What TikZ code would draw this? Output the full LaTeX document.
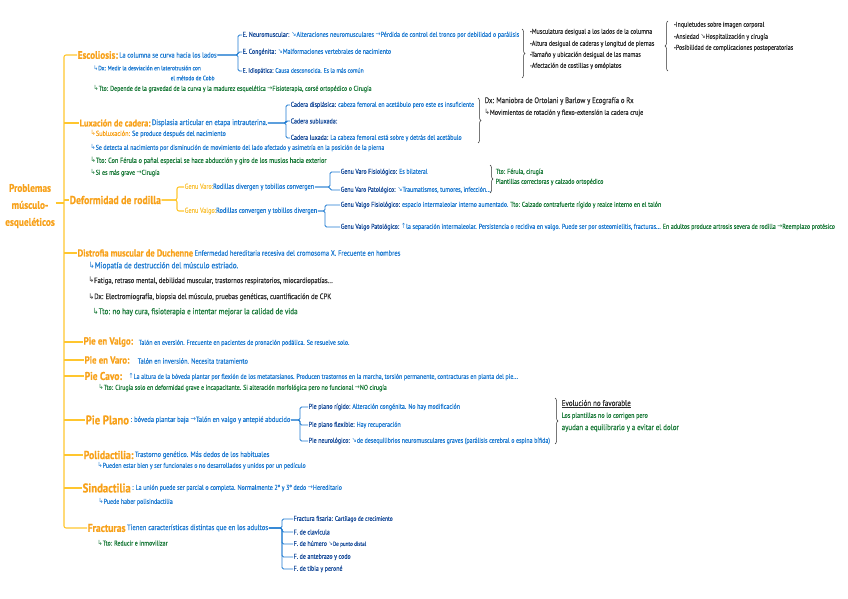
\documentclass[tikz,border=0pt]{standalone}
\usepackage{fontspec}
\setmainfont{PT Sans}[FakeStretch=0.85, FakeBold=0.5]
\newfontfamily\sym{DejaVu Sans}[FakeStretch=0.85]
\usetikzlibrary{decorations.pathreplacing}

\definecolor{orangeC}{HTML}{F7A11A}
\definecolor{varoC}{HTML}{F9C23C}
\definecolor{trunkC}{HTML}{FFC62E}
\definecolor{blueC}{HTML}{1F7BD1}
\definecolor{dblueC}{HTML}{1B4E9B}
\definecolor{greenC}{HTML}{1B7A3A}
\definecolor{grayC}{HTML}{2E2E2E}

\newcommand\fs[1]{\fontsize{#1}{#1}\selectfont}
\newcommand\hk{{\sym ↳}}
\newcommand\arr{{\sym →}}
\newcommand\darr{{\sym ↘}}
\newcommand\uarr{{\sym ↑}}

\begin{document}
\begin{tikzpicture}[x=1pt, y=-1pt,
  cat/.style={anchor=west, inner sep=0.5pt, text=orangeC, font=\bfseries\fs{#1}},
  cat/.default=11,
  txt/.style={anchor=west, inner sep=0.5pt, font=\fs{#1}},
  txt/.default=7,
  bl/.style={txt=#1, text=blueC}, bl/.default=7,
  db/.style={txt=#1, text=dblueC}, db/.default=7,
  gr/.style={txt=#1, text=greenC}, gr/.default=7,
  gy/.style={txt=#1, text=grayC}, gy/.default=7,
  trunk/.style={draw=trunkC, line width=1.1pt, rounded corners=2pt},
  twig/.style={draw=blueC, line width=0.8pt, rounded corners=1.5pt},
  brc/.style={draw=grayC, line width=0.5pt, decorate, decoration={brace, amplitude=3pt}}]
  \useasboundingbox (0,0) rectangle (848,599);
  \coordinate (tx) at (64,0);

  % Root
  \node[text=orangeC, font=\bfseries\fontsize{11}{17}\selectfont, align=center, inner sep=0.5pt] (root) at (30,206)
    {Problemas\\músculo-\\esqueléticos};

  % Escoliosis
  \node[cat=10.8] (esc) at (77,55) {Escoliosis:};
  \node[bl=7.5] (escd) at (esc.east) {La columna se curva hacia los lados};
  \node[bl=6.4] (escdx) at (93,68) {\hk Dx: Medir la desviación en laterotrusión con};
  \node[bl=6.4] (escdx2) at (170,78) {el método de Cobb};
  \node[gr] (esctto) at (93,89) {\hk Tto: Depende de la gravedad de la curva y la madurez esquelética \arr Fisioterapia, corsé ortopédico o Cirugía};
  \node[bl=7.1] (eneu) at (242,35) {\textcolor{dblueC}{E. Neuromuscular:} \darr Alteraciones neuromusculares \arr Pérdida de control del tronco por debilidad o parálisis};
  \node[bl] (econ) at (242,52) {\textcolor{dblueC}{E. Congénita:} \darr Malformaciones vertebrales de nacimiento};
  \node[bl=6.6] (eidi) at (242,71) {\textcolor{dblueC}{E. Idiopática:} Causa desconocida. Es la más común};
  \foreach \n in {eneu,econ,eidi}
    \draw[twig] (escd.east) -| ([xshift=-4]\n.west) -- (\n.west);
  \draw[brc] (522,29) -- (522,78);
  \node[gy] (sym1) at (529,32) {-Musculatura desigual a los lados de la columna};
  \node[gy] (sym2) at (529,44) {-Altura desigual de caderas y longitud de piernas};
  \node[gy] (sym3) at (529,55) {-Tamaño y ubicación desigual de las mamas};
  \node[gy] (sym4) at (529,66) {-Afectación de costillas y omóplatos};
  \draw[brc] (668,71) -- (668,21);
  \node[gy] (psy1) at (673,25) {-Inquietudes sobre imagen corporal};
  \node[gy] (psy2) at (673,37) {-Ansiedad \darr Hospitalización y cirugía};
  \node[gy] (psy3) at (673,48) {-Posibilidad de complicaciones postoperatorias};

  % Luxacion de cadera
  \node[cat=9.8] (lux) at (79,123) {Luxación de cadera:};
  \node[bl=7.9] (luxd) at (lux.east) {Displasia articular en etapa intrauterina.};
  \node[txt=7.3, text=orangeC] (luxsub) at (90,134) {\hk Subluxación: \textcolor{blueC}{Se produce después del nacimiento}};
  \node[bl] (luxdet) at (90,148) {\hk Se detecta al nacimiento por disminución de movimiento del lado afectado y asimetría en la posición de la pierna};
  \node[gr=7.4] (luxtto) at (90,161) {\hk Tto: Con Férula o pañal especial se hace abducción y giro de los muslos hacia exterior};
  \node[gr] (luxcir) at (90,173) {\hk Si es más grave \arr Cirugía};
  \node[bl] (cdis) at (290,105) {\textcolor{dblueC}{Cadera displásica:} cabeza femoral en acetábulo pero este es insuficiente};
  \node[bl] (csub) at (290,121) {\textcolor{dblueC}{Cadera subluxada:}};
  \node[bl] (clux) at (290,138) {\textcolor{dblueC}{Cadera luxada:} La cabeza femoral está sobre y detrás del acetábulo};
  \foreach \n in {cdis,csub,clux}
    \draw[twig] (luxd.east) -| ([xshift=-4]\n.west) -- (\n.west);
  \draw[brc] (478,98) -- (478,143);
  \node[gy=8] (luxdx) at (484,101) {Dx: Maniobra de Ortolani y Barlow y Ecografía o Rx};
  \node[gy=7.3] (luxmov) at (484,113) {\hk Movimientos de rotación y flexo-extensión la cadera cruje};

  % Deformidad de rodilla
  \node[cat=11.5] (def) at (69,200) {Deformidad de rodilla};
  \node[txt=7.3, text=varoC] (varo) at (184,187) {Genu Varo:\textcolor{blueC}{Rodillas divergen y tobillos convergen}};
  \node[txt=7.3, text=varoC] (valgo) at (184,211) {Genu Valgo:\textcolor{blueC}{Rodillas convergen y tobillos divergen}};
  \foreach \n in {varo,valgo}
    \draw[trunk] (def.east) -| ([xshift=-7]\n.west) -- (\n.west);
  \node[bl] (vfis) at (340,172) {\textcolor{dblueC}{Genu Varo Fisiológico:} Es bilateral};
  \node[bl=6.9] (vpat) at (340,190) {\textcolor{dblueC}{Genu Varo Patológico:} \darr Traumatismos, tumores, infección...};
  \foreach \n in {vfis,vpat}
    \draw[twig] (varo.east) -| ([xshift=-10]\n.west) -- (\n.west);
  \draw[brc] (490,165) -- (490,193);
  \node[gr] (vtto) at (495,172) {Tto: Férula, cirugía};
  \node[gr] (vpla) at (495,182) {Plantillas correctoras y calzado ortopédico};
  \node[bl] (lfis) at (340,205) {\textcolor{dblueC}{Genu Valgo Fisiológico:} espacio intermaleolar interno aumentado. \textcolor{greenC}{Tto: Calzado contrafuerte rígido y realce interno en el talón}};
  \node[bl] (lpat) at (340,227) {\textcolor{dblueC}{Genu Valgo Patológico:} \uarr la separación intermaleolar. Persistencia o recidiva en valgo. Puede ser por osteomielitis, fracturas... \textcolor{greenC}{En adultos produce artrosis severa de rodilla \arr Reemplazo protésico}};
  \foreach \n in {lfis,lpat}
    \draw[twig] (valgo.east) -| ([xshift=-15]\n.west) -- (\n.west);

  % Distrofia muscular de Duchenne
  \node[cat=10] (dmd) at (77,253) {Distrofia muscular de Duchenne};
  \node[bl=7.7] (dmdd) at (dmd.east) {Enfermedad hereditaria recesiva del cromosoma X. Frecuente en hombres};
  \node[bl=8.6] (dmd1) at (88,266) {\hk Miopatía de destrucción del músculo estriado.};
  \node[gy=7.7] (dmd2) at (88,281) {\hk Fatiga, retraso mental, debilidad muscular, trastornos respiratorios, miocardiopatías...};
  \node[gy=7.8] (dmd3) at (88,297) {\hk Dx: Electromiografía, biopsia del músculo, pruebas genéticas, cuantificación de CPK};
  \node[gr=8.4] (dmd4) at (92,312) {\hk Tto: no hay cura, fisioterapia e intentar mejorar la calidad de vida};

  % Pies
  \node[cat=10.4] (pva) at (83,342) {Pie en Valgo:};
  \node[bl] (pvad) at (138,343) {Talón en eversión. Frecuente en pacientes de pronación podálica. Se resuelve solo.};
  \node[cat=10.3] (pvr) at (84,360) {Pie en Varo:};
  \node[bl=7.5] (pvrd) at (137,361) {Talón en inversión. Necesita tratamiento};
  \node[cat=11.2] (pca) at (84,376) {Pie Cavo:};
  \node[bl] (pcad) at (128,377) {\uarr La altura de la bóveda plantar por flexión de los metatarsianos. Producen trastornos en la marcha, torsión permanente, contracturas en planta del pie...};
  \node[gr] (pcat) at (98,388) {\hk Tto: Cirugía solo en deformidad grave e incapacitante. Si alteración morfológica pero no funcional \arr NO cirugía};

  % Pie plano
  \node[cat=12.6] (ppl) at (85,420) {Pie Plano};
  \node[bl=7.6] (ppld) at (ppl.east) {: bóveda plantar baja \arr Talón en valgo y antepié abducido};
  \node[bl] (prig) at (308,407) {\textcolor{dblueC}{Pie plano rígido:} Alteración congénita. No hay modificación};
  \node[bl] (pflex) at (308,425) {\textcolor{dblueC}{Pie plano flexible:} Hay recuperación};
  \node[bl] (pneu) at (308,441) {\textcolor{dblueC}{Pie neurológico:} \darr de desequilibrios neuromusculares graves (parálisis cerebral o espina bífida)};
  \foreach \n in {prig,pflex,pneu}
    \draw[twig] (ppld.east) -| ([xshift=-8]\n.west) -- (\n.west);
  \draw[brc] (555,398) -- (555,444);
  \node[gy=8.3] (pevo) at (561,404) {\underline{Evolución no favorable}};
  \node[gr=7.2] (ppla1) at (561,416) {Los plantillas no lo corrigen pero};
  \node[gr=8.2] (ppla2) at (561,428) {ayudan a equilibrarlo y a evitar el dolor};

  % Polidactilia y sindactilia
  \node[cat=11.6] (pol) at (83,455) {Polidactilia:};
  \node[bl=7.7] (pold) at (pol.east) {Trastorno genético. Más dedos de los habituales};
  \node[bl] (pol1) at (97,466) {\hk Pueden estar bien y ser funcionales o no desarrollados y unidos por un pedículo};
  \node[cat=12.6] (sin) at (82,488) {Sindactilia};
  \node[bl=7.1] (sind) at (sin.east) {: La unión puede ser parcial o completa. Normalmente 2º y 3º dedo \arr Hereditario};
  \node[bl] (sin1) at (98,502) {\hk Puede haber polisindactilia};

  % Fracturas
  \node[cat=11.3] (fra) at (87,528) {Fracturas};
  \node[bl=7.8] (frad) at (fra.east) {Tienen características distintas que en los adultos};
  \node[gr] (fratto) at (97,543) {\hk Tto: Reducir e inmovilizar};
  \node[db] (ffis) at (293,519) {Fractura fisaria: {\fs{6.5}Cartílago de crecimiento}};
  \node[db] (fcla) at (293,532) {F. de clavícula};
  \node[db] (fhum) at (293,544) {F. de húmero {\fs{6}\darr De punto distal}};
  \node[db] (fant) at (293,557) {F. de antebrazo y codo};
  \node[db] (ftib) at (293,569) {F. de tibia y peroné};
  \foreach \n in {ffis,fcla,fhum,fant,ftib}
    \draw[twig] (frad.east) -| ([xshift=-11]\n.west) -- (\n.west);

  % Trunk
  \draw[trunk] (esc.west) -| (tx |- fra.west) -- (fra.west);
  \draw[trunk] (root.east |- 0,203) -- (tx |- 0,203);
  \foreach \n in {lux,def,dmd,pva,pvr,pca,ppl,pol,sin}
    \draw[trunk] (\n.west -| tx) -- (\n.west);
\end{tikzpicture}
\end{document}
